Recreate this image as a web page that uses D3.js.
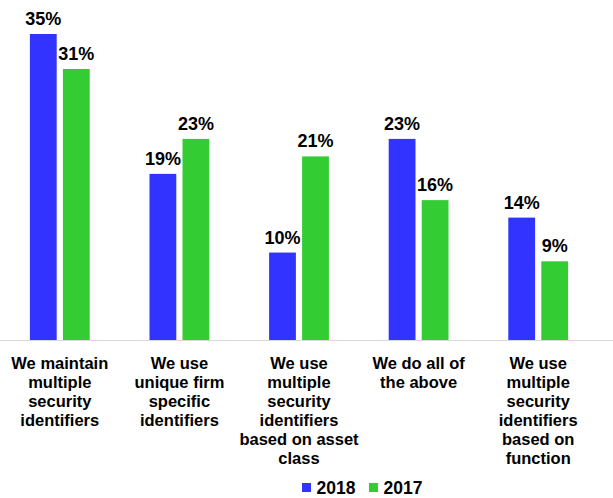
<!DOCTYPE html>
<html>
<head>
<meta charset="utf-8">
<script src="https://cdn.jsdelivr.net/npm/d3@7"></script>
<style>
  html, body { margin: 0; padding: 0; background: #fff; }
  svg { display: block; }
  text { font-family: "Liberation Sans", Arial, sans-serif; font-weight: bold; fill: #000; }
</style>
</head>
<body>
<svg id="chart" width="613" height="498"></svg>
<script>
// Survey answers (percent of respondents)
const categories = [
  ["We maintain", "multiple", "security", "identifiers"],
  ["We use", "unique firm", "specific", "identifiers"],
  ["We use", "multiple", "security", "identifiers", "based on asset", "class"],
  ["We do all of", "the above"],
  ["We use", "multiple", "security", "identifiers", "based on", "function"]
];
const seriesNames = ["2018", "2017"];
const values2018 = [35, 19, 10, 23, 14];
const values2017 = [31, 23, 21, 16, 9];
const colors = ["#3333ff", "#33cc33"];

const svg = d3.select("#chart");
const W = 613;
const baseY = 340;

const keys = categories.map((c, i) => "c" + i);
const x0 = d3.scaleBand().domain(keys).range([0, 598]).paddingInner(0).paddingOuter(0);
const bw = x0.bandwidth();
const x1 = d3.scaleBand().domain(seriesNames).range([bw * 0.25, bw * 0.75]).paddingInner(0.188);
const y = d3.scaleLinear().domain([0, 35]).range([baseY, 34]);
const color = d3.scaleOrdinal().domain(seriesNames).range(colors);

const rows = keys.map((k, i) => ({
  key: k,
  lines: categories[i],
  vals: [
    { s: "2018", v: values2018[i] },
    { s: "2017", v: values2017[i] }
  ]
}));

// Baseline
svg.append("line")
  .attr("x1", 0).attr("x2", W)
  .attr("y1", baseY + 0.5).attr("y2", baseY + 0.5)
  .attr("stroke", "#d9d9d9").attr("stroke-width", 1);

const g = svg.selectAll("g.grp").data(rows).join("g")
  .attr("class", "grp")
  .attr("transform", d => `translate(${x0(d.key)},0)`);

// Bars
g.selectAll("rect").data(d => d.vals).join("rect")
  .attr("x", d => x1(d.s))
  .attr("width", x1.bandwidth())
  .attr("y", d => y(d.v))
  .attr("height", d => baseY - y(d.v))
  .attr("fill", d => color(d.s));

// Value labels
g.selectAll("text.val").data(d => d.vals).join("text")
  .attr("class", "val")
  .attr("x", d => x1(d.s) + x1.bandwidth() / 2)
  .attr("y", d => y(d.v) - 9)
  .attr("text-anchor", "middle")
  .style("font-size", "18px")
  .text(d => d.v + "%");

// Category labels
g.append("text")
  .attr("text-anchor", "middle")
  .style("font-size", "16.5px")
  .selectAll("tspan").data(d => d.lines).join("tspan")
  .attr("x", bw / 2)
  .attr("y", (d, i) => 368.5 + i * 19)
  .text(d => d);

// Legend
const legendItems = [
  { s: "2018", x: 302 },
  { s: "2017", x: 369 }
];
const lg = svg.selectAll("g.leg").data(legendItems).join("g").attr("class", "leg");
lg.append("rect")
  .attr("x", d => d.x).attr("y", 483)
  .attr("width", 9).attr("height", 9)
  .attr("fill", d => color(d.s));
lg.append("text")
  .attr("x", d => d.x + 14.5).attr("y", 494.3)
  .style("font-size", "17.5px")
  .text(d => d.s);
</script>
</body>
</html>
